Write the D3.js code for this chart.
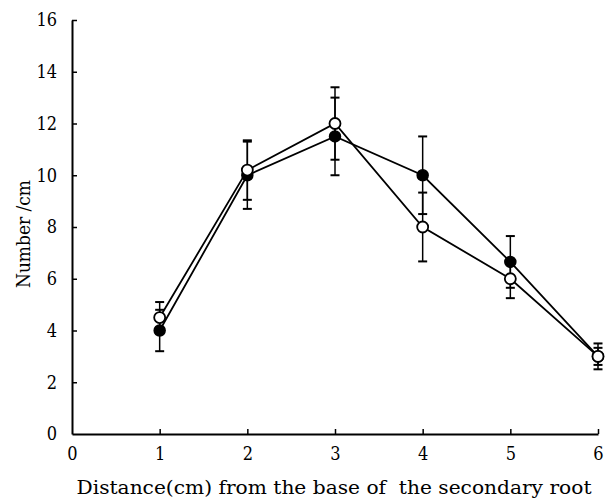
<!DOCTYPE html>
<html>
<head>
<meta charset="utf-8">
<script src="https://cdn.jsdelivr.net/npm/d3@7"></script>
<style>
  html, body { margin: 0; padding: 0; background: #fff; }
  svg { display: block; }
  svg text { font-family: 'DejaVu Serif', serif; fill: #000; }
  svg text.num { font-family: 'DejaVu Serif Condensed', 'DejaVu Serif', serif; }
</style>
</head>
<body>
<svg id="chart" width="613" height="504"></svg>
<script>
const distances = [1, 2, 3, 4, 5, 6];
const filledMean = [4.0, 10.0, 11.5, 10.0, 6.65, 3.0];
const filledErr  = [0.8, 1.3, 1.5, 1.5, 1.0, 0.5];
const openMean   = [4.5, 10.2, 12.0, 8.0, 6.0, 3.0];
const openErr    = [0.6, 1.15, 1.4, 1.33, 0.75, 0.33];
const xTicks = [0, 1, 2, 3, 4, 5, 6];
const yTicks = [0, 2, 4, 6, 8, 10, 12, 14, 16];
const xTitle = "Distance(cm) from the base of  the secondary root";
const yTitle = "Number /cm";

const svg = d3.select("#chart");
const x = d3.scaleLinear().domain([0, 6]).range([72, 598]);
const y = d3.scaleLinear().domain([0, 16]).range([434, 20]);

// axes
const xAxis = d3.axisBottom(x).tickValues(xTicks).tickFormat(d3.format("d"))
  .tickSize(-5).tickPadding(13).tickSizeOuter(0);
const gx = svg.append("g").attr("transform", `translate(0,${y(0)})`).call(xAxis);
const yAxis = d3.axisLeft(y).tickValues(yTicks).tickFormat(d3.format("d"))
  .tickSize(-5).tickPadding(15).tickSizeOuter(0);
const gy = svg.append("g").attr("transform", `translate(${x(0)},0)`).call(yAxis);
[gx, gy].forEach(g => {
  g.attr("font-family", null);
  g.select(".domain").attr("stroke", "#000").attr("stroke-width", 2);
  g.selectAll(".tick line").attr("stroke", "#000").attr("stroke-width", 1.5);
  g.selectAll(".tick text").attr("class", "num").attr("font-size", 18);
});
gx.selectAll(".tick").filter(d => d === 0).select("line").remove();
gy.selectAll(".tick").filter(d => d === 0).select("line").remove();

// titles
svg.append("text")
  .attr("x", 334).attr("y", 494)
  .attr("text-anchor", "middle")
  .attr("font-size", 18)
  .attr("textLength", 515)
  .attr("lengthAdjust", "spacingAndGlyphs")
  .style("white-space", "pre")
  .text(xTitle);
svg.append("text")
  .attr("transform", `translate(30,234) rotate(-90)`)
  .attr("text-anchor", "middle")
  .attr("font-size", 18)
  .attr("textLength", 108)
  .attr("lengthAdjust", "spacingAndGlyphs")
  .text(yTitle);

const filled = distances.map((d, i) => ({x: d, m: filledMean[i], e: filledErr[i]}));
const open = distances.map((d, i) => ({x: d, m: openMean[i], e: openErr[i]}));

const line = d3.line().x(d => x(d.x)).y(d => y(d.m));
[filled, open].forEach(data => {
  svg.append("path").datum(data).attr("d", line)
    .attr("fill", "none").attr("stroke", "#000").attr("stroke-width", 1.8);
});

// error bars
function errorBars(data) {
  const g = svg.append("g").attr("stroke", "#000");
  g.selectAll("line.v").data(data).join("line")
    .attr("x1", d => x(d.x)).attr("x2", d => x(d.x))
    .attr("y1", d => y(d.m - d.e)).attr("y2", d => y(d.m + d.e))
    .attr("stroke-width", 1.5);
  ["+", "-"].forEach(s => {
    g.selectAll("line.c" + (s === "+" ? "u" : "l")).data(data).join("line")
      .attr("x1", d => x(d.x) - 4.5).attr("x2", d => x(d.x) + 4.5)
      .attr("y1", d => y(s === "+" ? d.m + d.e : d.m - d.e))
      .attr("y2", d => y(s === "+" ? d.m + d.e : d.m - d.e))
      .attr("stroke-width", 2);
  });
}
errorBars(filled);
errorBars(open);

svg.append("g").selectAll("circle").data(filled).join("circle")
  .attr("cx", d => x(d.x)).attr("cy", d => y(d.m)).attr("r", 5.5)
  .attr("fill", "#000").attr("stroke", "#000").attr("stroke-width", 1.5);
svg.append("g").selectAll("circle").data(open).join("circle")
  .attr("cx", d => x(d.x)).attr("cy", d => y(d.m)).attr("r", 5.5)
  .attr("fill", "#fff").attr("stroke", "#000").attr("stroke-width", 1.8);
</script>
</body>
</html>
